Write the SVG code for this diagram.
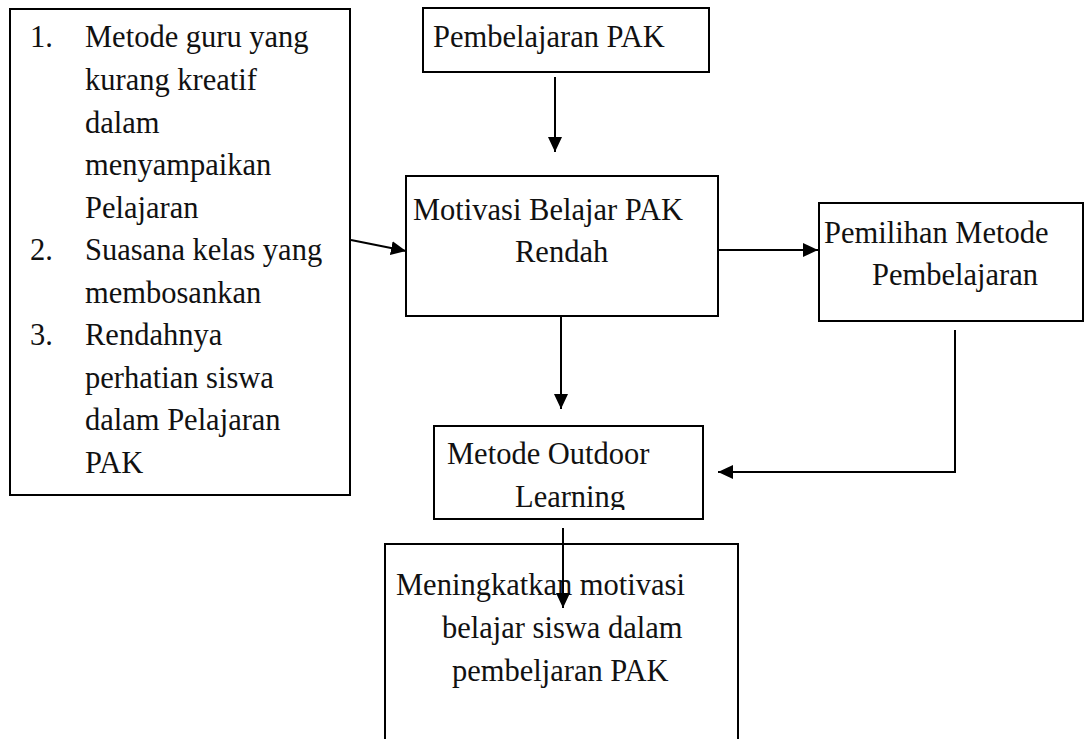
<svg xmlns="http://www.w3.org/2000/svg" width="1086" height="739" viewBox="0 0 1086 739">
<style>
.box{fill:#fff;stroke:#000;stroke-width:2}
.t{font-family:"Liberation Serif","Times New Roman",serif;font-size:30.5px;fill:#111}
.c{stroke:#000;stroke-width:2;fill:none}
</style>
<defs>
<marker id="ah" viewBox="0 0 15 14" refX="15" refY="7" markerWidth="15" markerHeight="14" markerUnits="userSpaceOnUse" orient="auto">
<path d="M0,0 L15,7 L0,14 Z" fill="#000"/>
</marker>
<clipPath id="clipOut"><rect x="434" y="426" width="269" height="84"/></clipPath>
</defs>
<rect width="1086" height="739" fill="#fff"/>
<g id="problems">
<rect class="box" x="10" y="9" width="340" height="486"/>
<text class="t" x="30" y="47">1.</text>
<text class="t" x="85" y="47">Metode guru yang</text>
<text class="t" x="85" y="90">kurang kreatif</text>
<text class="t" x="85" y="133">dalam</text>
<text class="t" x="85" y="175">menyampaikan</text>
<text class="t" x="85" y="218">Pelajaran</text>
<text class="t" x="30" y="260">2.</text>
<text class="t" x="85" y="260">Suasana kelas yang</text>
<text class="t" x="85" y="303">membosankan</text>
<text class="t" x="30" y="345">3.</text>
<text class="t" x="85" y="345">Rendahnya</text>
<text class="t" x="85" y="388">perhatian siswa</text>
<text class="t" x="85" y="430">dalam Pelajaran</text>
<text class="t" x="85" y="473">PAK</text>
</g>
<g id="pembelajaran">
<rect class="box" x="423" y="8" width="286" height="64"/>
<text class="t" x="433" y="47">Pembelajaran PAK</text>
</g>
<g id="motivasi">
<rect class="box" x="406" y="176" width="312" height="140"/>
<text class="t" x="413" y="220">Motivasi Belajar PAK</text>
<text class="t" x="515" y="262">Rendah</text>
</g>
<g id="pemilihan">
<rect class="box" x="819" y="203" width="264" height="118"/>
<text class="t" x="824" y="243">Pemilihan Metode</text>
<text class="t" x="872" y="285">Pembelajaran</text>
</g>
<g id="outdoor">
<rect class="box" x="434" y="426" width="269" height="93"/>
<text class="t" x="447" y="464">Metode Outdoor</text>
<text class="t" x="515" y="507" clip-path="url(#clipOut)">Learning</text>
</g>
<g id="hasil">
<path class="box" d="M385,740 L385,544 L738,544 L738,740"/>
<text class="t" x="396" y="595">Meningkatkan motivasi</text>
<text class="t" x="442" y="638">belajar siswa dalam</text>
<text class="t" x="452" y="681">pembeljaran PAK</text>
</g>
<g id="connectors">
<line class="c" x1="555" y1="77" x2="555" y2="152" marker-end="url(#ah)"/>
<line class="c" x1="351" y1="240" x2="406" y2="251" marker-end="url(#ah)"/>
<line class="c" x1="718" y1="250" x2="818" y2="250" marker-end="url(#ah)"/>
<line class="c" x1="561" y1="316" x2="561" y2="409" marker-end="url(#ah)"/>
<polyline class="c" points="955,330 955,472 718,472" marker-end="url(#ah)"/>
<line class="c" x1="563" y1="528" x2="563" y2="608" marker-end="url(#ah)"/>
</g>
</svg>
